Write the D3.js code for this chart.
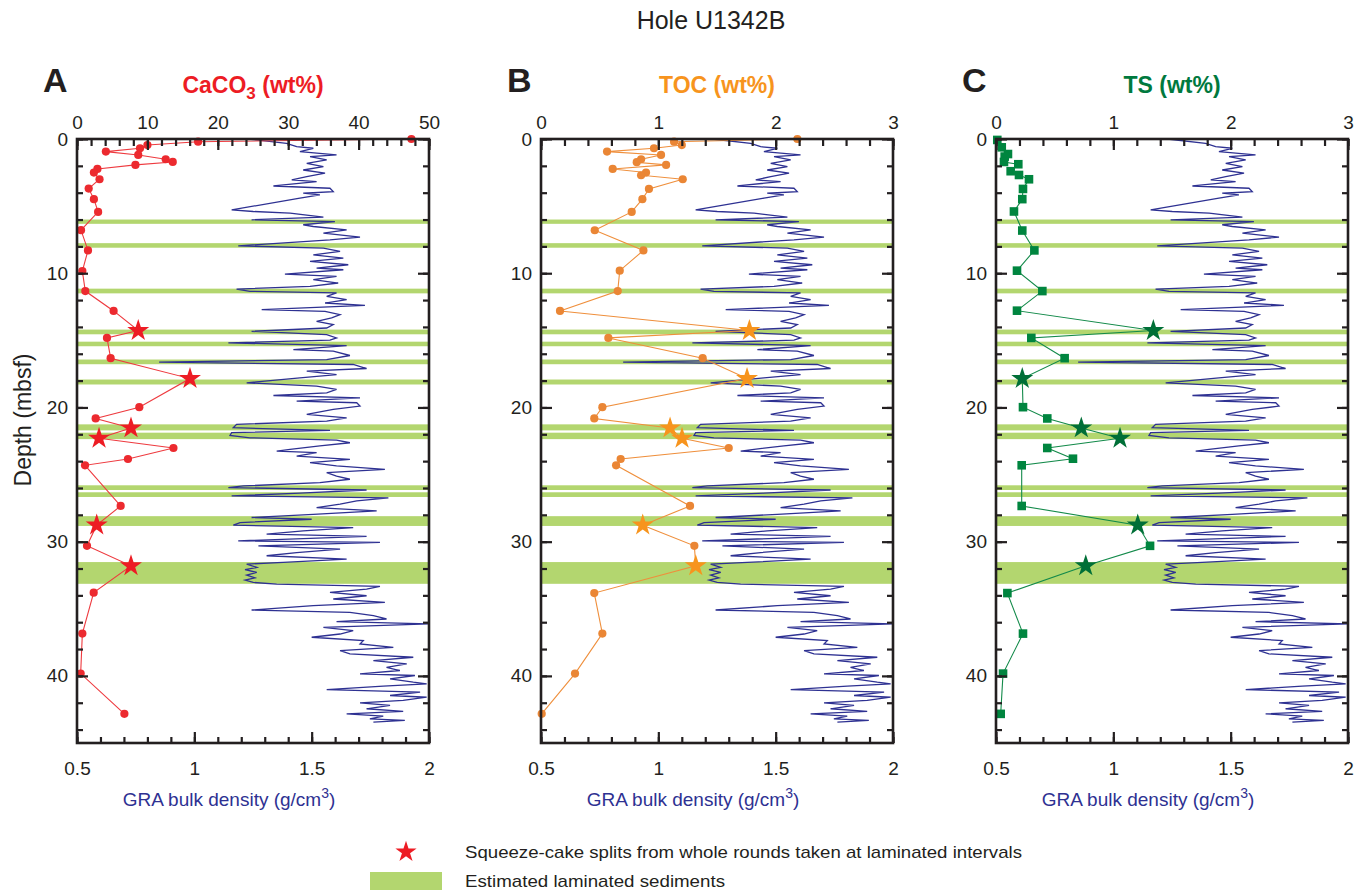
<!DOCTYPE html>
<html>
<head>
<meta charset="utf-8">
<script src="https://d3js.org/d3.v7.min.js"></script>
<style>
  html, body { margin: 0; padding: 0; background: #fff; }
  svg { display: block; font-family: "Liberation Sans", Arial, Helvetica, sans-serif; }
</style>
</head>
<body>
<svg id="chart" width="1366" height="892"></svg>
<script>
// ---------------- DATA ----------------
const depthTicks = [0, 10, 20, 30, 40];
const caco3Ticks = [0, 10, 20, 30, 40, 50];
const wtTicks = [0, 1, 2, 3];
const graTicks = [0.5, 1, 1.5, 2];
const graTickLabels = ["0.5", "1", "1.5", "2"];

// depths (mbsf) of squeeze-cake samples (drawn as stars)
const starDepths = [14.27, 17.85, 21.53, 22.3, 28.77, 31.8];

// CaCO3 (wt%)
const caco3Depth = [0, 0.2, 0.45, 0.69, 0.94, 1.19, 1.51, 1.71, 1.93, 2.23, 2.5, 3.0, 3.69, 4.48, 5.43, 6.79, 8.3, 9.84, 11.33, 12.81, 14.27, 14.82, 16.33, 17.85, 19.98, 20.82, 21.53, 22.3, 23.02, 23.84, 24.31, 27.34, 28.77, 30.31, 31.8, 33.8, 36.85, 39.83, 42.83];
const caco3 = [47.5, 17.2, 10.0, 8.95, 4.1, 8.7, 12.6, 13.6, 8.3, 2.9, 2.4, 3.2, 1.66, 2.4, 3.0, 0.57, 1.56, 0.76, 1.18, 5.2, 8.7, 4.26, 4.78, 16.05, 8.85, 2.65, 7.67, 3.13, 13.7, 7.24, 1.14, 6.2, 2.8, 1.42, 7.67, 2.37, 0.76, 0.52, 6.73];

// TOC (wt%)
const tocDepth = [0, 0.2, 0.45, 0.69, 0.94, 1.19, 1.51, 1.73, 1.93, 2.23, 2.5, 2.7, 3.0, 3.72, 4.48, 5.43, 6.8, 8.3, 9.81, 11.33, 12.81, 14.27, 14.82, 16.33, 17.85, 19.98, 20.82, 21.53, 22.3, 23.02, 23.84, 24.31, 27.34, 28.77, 30.31, 31.8, 33.83, 36.85, 39.83, 42.83];
const toc = [2.185, 1.134, 1.20, 0.963, 0.563, 1.023, 0.853, 0.816, 1.066, 0.611, 0.895, 0.853, 1.208, 0.92, 0.864, 0.773, 0.458, 0.873, 0.671, 0.654, 0.162, 1.776, 0.574, 1.378, 1.756, 0.523, 0.454, 1.10, 1.202, 1.60, 0.679, 0.64, 1.27, 0.867, 1.307, 1.319, 0.454, 0.523, 0.29, 0.006];

// TS (wt%)
const tsDepth = [0.07, 0.62, 1.12, 1.31, 1.71, 1.88, 2.40, 2.68, 3.0, 3.72, 4.48, 5.4, 6.82, 8.3, 9.81, 11.33, 12.79, 14.27, 14.82, 16.33, 17.85, 19.98, 20.82, 21.53, 22.3, 23.02, 23.82, 24.31, 27.34, 28.77, 30.31, 31.8, 33.83, 36.85, 39.83, 42.83];
const ts = [0.011, 0.049, 0.102, 0.074, 0.068, 0.19, 0.125, 0.196, 0.281, 0.23, 0.224, 0.153, 0.224, 0.327, 0.179, 0.395, 0.179, 1.341, 0.301, 0.585, 0.224, 0.23, 0.437, 0.727, 1.057, 0.437, 0.656, 0.219, 0.219, 1.208, 1.313, 0.765, 0.097, 0.23, 0.06, 0.04];

// GRA bulk density (g/cm3)
const graDepth = [0, 0.32, 0.57, 0.69, 0.94, 1.19, 1.31, 1.56, 1.81, 2.06,
  2.31, 2.55, 2.80, 3.05, 3.17, 3.50, 3.67, 3.92, 4.04, 4.16,
  4.41, 5.28, 5.40, 5.53, 5.82, 6.02, 6.15, 6.39, 6.52, 6.77,
  7.01, 7.31, 7.51, 7.96, 8.13, 8.38, 8.63, 8.87, 9.12, 9.37,
  9.62, 9.74, 10.06, 10.24, 10.48, 10.73, 10.98, 11.18, 11.35, 11.47,
  11.72, 11.97, 12.22, 12.39, 12.71, 12.84, 13.09, 13.33, 13.58, 13.83,
  14.08, 14.33, 14.57, 14.82, 14.99, 15.19, 15.39, 15.69, 15.81, 16.13,
  16.43, 16.63, 16.80, 17.10, 17.30, 17.55, 17.80, 18.17, 18.41, 18.66,
  18.91, 19.11, 19.28, 19.53, 19.65, 19.90, 20.15, 20.52, 20.77, 21.02,
  21.26, 21.51, 21.71, 21.88, 22.08, 22.26, 22.43, 22.63, 22.87, 23.12,
  23.25, 23.37, 23.62, 23.87, 24.11, 24.36, 24.61, 24.86, 25.11, 25.35,
  25.60, 25.85, 25.97, 26.15, 26.39, 26.59, 26.74, 26.96, 27.21, 27.46,
  27.71, 27.96, 28.20, 28.33, 28.58, 28.77, 28.95, 29.20, 29.44, 29.61,
  29.94, 30.06, 30.31, 30.56, 30.81, 31.05, 31.30, 31.55, 31.67, 31.92,
  32.09, 32.29, 32.49, 32.69, 32.86, 33.04, 33.16, 33.33, 33.53, 33.78,
  34.03, 34.27, 34.52, 34.77, 35.09, 35.27, 35.51, 35.76, 35.96, 36.13,
  36.38, 36.63, 36.88, 37.12, 37.37, 37.62, 37.87, 38.12, 38.36, 38.61,
  38.86, 39.11, 39.36, 39.60, 39.85, 39.97, 40.22, 40.47, 40.59, 40.77,
  41.02, 41.21, 41.46, 41.59, 41.83, 42.01, 42.20, 42.45, 42.65, 42.83,
  43.00, 43.20, 43.32, 43.45];
const gra = [1.23, 1.393, 1.436, 1.507, 1.450, 1.606, 1.493, 1.564, 1.479, 1.550,
  1.464, 1.557, 1.479, 1.415, 1.521, 1.337, 1.578, 1.592, 1.464, 1.535,
  1.450, 1.159, 1.251, 1.408, 1.550, 1.244, 1.599, 1.464, 1.507, 1.649,
  1.550, 1.706, 1.578, 1.187, 1.550, 1.621, 1.507, 1.635, 1.493, 1.656,
  1.521, 1.635, 1.386, 1.606, 1.507, 1.613, 1.493, 1.180, 1.237, 1.606,
  1.564, 1.649, 1.557, 1.727, 1.287, 1.557, 1.621, 1.585, 1.521, 1.592,
  1.564, 1.244, 1.564, 1.606, 1.578, 1.145, 1.649, 1.422, 1.592, 1.663,
  1.564, 0.85, 1.677, 1.734, 1.479, 1.606, 1.450, 1.223, 1.521, 1.606,
  1.564, 1.337, 1.706, 1.436, 1.692, 1.706, 1.592, 1.479, 1.649, 1.564,
  1.180, 1.166, 1.578, 1.159, 1.152, 1.237, 1.606, 1.663, 1.535, 1.408,
  1.351, 1.521, 1.436, 1.663, 1.493, 1.606, 1.812, 1.564, 1.606, 1.663,
  1.535, 1.209, 1.145, 1.734, 1.450, 1.159, 1.827, 1.692, 1.621, 1.521,
  1.777, 1.507, 1.244, 1.500, 1.195, 1.166, 1.677, 1.464, 1.308, 1.734,
  1.187, 1.791, 1.273, 1.621, 1.436, 1.308, 1.649, 1.379, 1.223, 1.266,
  1.216, 1.266, 1.223, 1.258, 1.216, 1.251, 1.351, 1.791, 1.734, 1.578,
  1.734, 1.592, 1.812, 1.507, 1.244, 1.663, 1.763, 1.819, 1.606, 2.0,
  1.550, 1.677, 1.621, 1.500, 1.720, 1.706, 1.848, 1.621, 1.663, 1.933,
  1.763, 1.905, 1.819, 1.876, 1.706, 1.940, 1.834, 1.933, 1.990, 1.805,
  1.564, 1.962, 1.834, 1.990, 1.890, 1.706, 1.834, 1.734, 1.890, 1.649,
  1.805, 1.748, 1.897, 1.763];

// estimated laminated intervals (mbsf)
const laminaTop = [6.0, 7.76, 11.15, 14.2, 15.1, 16.43, 17.92, 21.26, 21.88, 25.8, 26.32, 28.1, 31.52];
const laminaBottom = [6.32, 8.1, 11.5, 14.55, 15.44, 16.78, 18.29, 21.71, 22.36, 26.15, 26.67, 28.83, 33.14];

// ---------------- STYLE / LAYOUT ----------------
const NAVY = "#2e3192", BAND = "#b3d66f";
const W = 352, Y0 = 139, Y1 = 743;
const svg = d3.select("#chart");

svg.append("text").attr("x", 711).attr("y", 29).attr("text-anchor", "middle")
  .attr("font-size", 25).attr("fill", "#231f20").text("Hole U1342B");

const y = d3.scaleLinear().domain([0, 45]).range([Y0, Y1]);
const grid = (a, b, s) => d3.range(Math.round(a / s), Math.round(b / s) + 1).map(i => +(i * s).toFixed(6));

const panels = [
  { x0: 77, letter: "A", name: "CaCO", sub: "3", rest: " (wt%)", color: "#ed1c24",
    domain: [0, 50], ticks: caco3Ticks, minorStep: 2, depth: caco3Depth, vals: caco3,
    line: "#ee3a3f", dot: "#ec2a2f", star: "#ed1c24", marker: "circle" },
  { x0: 541, letter: "B", name: "TOC", sub: "", rest: " (wt%)", color: "#f7941d",
    domain: [0, 3], ticks: wtTicks, minorStep: 0.2, depth: tocDepth, vals: toc,
    line: "#ef8f3c", dot: "#ea8635", star: "#f7941d", marker: "circle" },
  { x0: 996, letter: "C", name: "TS", sub: "", rest: " (wt%)", color: "#00793e",
    domain: [0, 3], ticks: wtTicks, minorStep: 0.2, depth: tsDepth, vals: ts,
    line: "#138a4a", dot: "#00853f", star: "#006f37", marker: "square" }
];

panels.forEach(p => {
  const g = svg.append("g");
  const xTop = d3.scaleLinear().domain(p.domain).range([p.x0, p.x0 + W]);
  const xGra = d3.scaleLinear().domain([0.5, 2]).range([p.x0, p.x0 + W]);

  // laminated bands
  g.append("g").selectAll("rect").data(laminaTop).join("rect")
    .attr("x", p.x0).attr("width", W)
    .attr("y", (d) => y(d)).attr("height", (d, i) => y(laminaBottom[i]) - y(d))
    .attr("fill", BAND);

  // GRA curve
  const graPts = graDepth.map((d, i) => [gra[i], d]);
  g.append("path").datum(graPts)
    .attr("d", d3.line().x(d => xGra(d[0])).y(d => y(d[1])))
    .attr("fill", "none").attr("stroke", NAVY).attr("stroke-width", 1.3)
    .attr("stroke-linejoin", "miter");

  // geochem series
  const pts = p.depth.map((d, i) => ({ d, v: p.vals[i], star: starDepths.some(s => Math.abs(s - d) < 0.03) }));
  g.append("path").datum(pts)
    .attr("d", d3.line().x(d => xTop(d.v)).y(d => y(d.d)))
    .attr("fill", "none").attr("stroke", p.line).attr("stroke-width", 1.1);

  const normal = pts.filter(d => !d.star), stars = pts.filter(d => d.star);
  if (p.marker === "circle") {
    g.append("g").selectAll("circle").data(normal).join("circle")
      .attr("cx", d => xTop(d.v)).attr("cy", d => y(d.d)).attr("r", 4.1).attr("fill", p.dot);
  } else {
    g.append("g").selectAll("rect").data(normal).join("rect")
      .attr("x", d => xTop(d.v) - 4.3).attr("y", d => y(d.d) - 4.3)
      .attr("width", 8.6).attr("height", 8.6).attr("fill", p.dot);
  }
  const starSym = d3.symbol().type(d3.symbolStar).size(150);
  g.append("g").selectAll("path").data(stars).join("path")
    .attr("transform", d => `translate(${xTop(d.v)},${y(d.d)})`)
    .attr("d", starSym).attr("fill", p.star);

  // frame
  g.append("rect").attr("x", p.x0).attr("y", Y0).attr("width", W).attr("height", Y1 - Y0)
    .attr("fill", "none").attr("stroke", "#231f20").attr("stroke-width", 2.6);

  const styleAxis = (sel) => {
    sel.select(".domain").remove();
    sel.selectAll("line").attr("stroke", "#231f20").attr("stroke-width", 2.2);
    sel.selectAll("text").attr("fill", "#231f20").attr("font-size", 19)
      .attr("font-family", "Liberation Sans, Arial, sans-serif");
  };

  // left axis
  g.append("g").attr("transform", `translate(${p.x0},0)`)
    .call(d3.axisLeft(y).tickValues(grid(0, 44, 2)).tickSize(-6).tickFormat(""))
    .call(styleAxis);
  g.append("g").attr("transform", `translate(${p.x0},0)`)
    .call(d3.axisLeft(y).tickValues(depthTicks).tickSize(-11).tickPadding(9).tickFormat(d3.format("d")))
    .call(styleAxis);
  // right axis
  g.append("g").attr("transform", `translate(${p.x0 + W},0)`)
    .call(d3.axisRight(y).tickValues(grid(0, 44, 2)).tickSize(-6).tickFormat(""))
    .call(styleAxis);
  g.append("g").attr("transform", `translate(${p.x0 + W},0)`)
    .call(d3.axisRight(y).tickValues(depthTicks).tickSize(-11).tickFormat(""))
    .call(styleAxis);
  // top axis
  g.append("g").attr("transform", `translate(0,${Y0})`)
    .call(d3.axisTop(xTop).tickValues(grid(p.domain[0], p.domain[1], p.minorStep)).tickSize(-7).tickFormat(""))
    .call(styleAxis);
  g.append("g").attr("transform", `translate(0,${Y0})`)
    .call(d3.axisTop(xTop).tickValues(p.ticks).tickSize(-11).tickPadding(10).tickFormat(d3.format("d")))
    .call(styleAxis);
  // bottom axis
  g.append("g").attr("transform", `translate(0,${Y1})`)
    .call(d3.axisBottom(xGra).tickValues(grid(0.5, 2, 0.1)).tickSize(-6).tickFormat(""))
    .call(styleAxis);
  g.append("g").attr("transform", `translate(0,${Y1})`)
    .call(d3.axisBottom(xGra).tickValues(graTicks).tickSize(-11).tickPadding(19)
      .tickFormat((d, i) => graTickLabels[i]))
    .call(styleAxis);

  // panel letter
  g.append("text").attr("x", p.x0 - 34).attr("y", 92).attr("font-size", 34)
    .attr("font-weight", "bold").attr("fill", "#231f20").text(p.letter);
  // top title
  const t = g.append("text").attr("x", p.x0 + W / 2).attr("y", 93).attr("text-anchor", "middle")
    .attr("font-size", 23).attr("font-weight", "bold").attr("fill", p.color);
  t.append("tspan").text(p.name);
  if (p.sub) {
    t.append("tspan").attr("dy", 6).attr("font-size", 17).text(p.sub);
    t.append("tspan").attr("dy", -6).text(p.rest);
  } else {
    t.append("tspan").text(p.rest);
  }
  // bottom title
  const b = g.append("text").attr("x", p.x0 + 152).attr("y", 806).attr("text-anchor", "middle")
    .attr("font-size", 19).attr("fill", NAVY);
  b.append("tspan").text("GRA bulk density (g/cm");
  b.append("tspan").attr("dy", -8).attr("font-size", 14).text("3");
  b.append("tspan").attr("dy", 8).text(")");
});

// depth label
svg.append("text").attr("transform", "translate(31,420) rotate(-90)").attr("text-anchor", "middle")
  .attr("font-size", 23).attr("fill", "#231f20").text("Depth (mbsf)");

// legend
svg.append("path").attr("transform", "translate(406,852)")
  .attr("d", d3.symbol().type(d3.symbolStar).size(140)).attr("fill", "#ed1c24");
svg.append("text").attr("x", 465).attr("y", 858).attr("font-size", 17).attr("fill", "#231f20")
  .attr("textLength", 557).attr("lengthAdjust", "spacingAndGlyphs")
  .text("Squeeze-cake splits from whole rounds taken at laminated intervals");
svg.append("rect").attr("x", 370).attr("y", 872).attr("width", 72).attr("height", 18).attr("fill", BAND);
svg.append("text").attr("x", 465).attr("y", 887).attr("font-size", 17).attr("fill", "#231f20")
  .attr("textLength", 260).attr("lengthAdjust", "spacingAndGlyphs")
  .text("Estimated laminated sediments");
</script>
</body>
</html>
